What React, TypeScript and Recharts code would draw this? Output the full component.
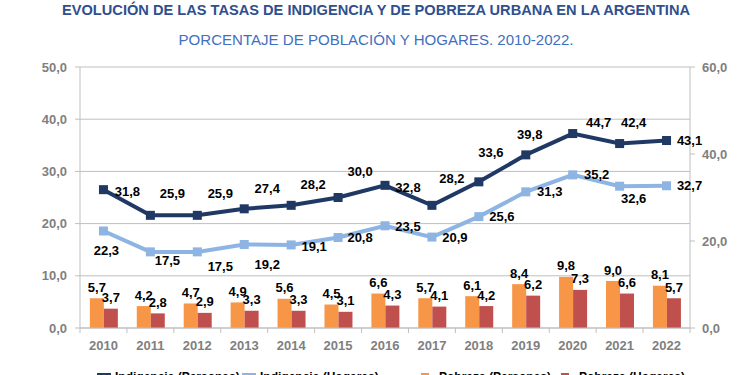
import React from "react"
import {
  Bar,
  CartesianGrid,
  ComposedChart,
  LabelList,
  Line,
  XAxis,
  YAxis,
} from "recharts"

const years = ["2010", "2011", "2012", "2013", "2014", "2015", "2016", "2017", "2018", "2019", "2020", "2021", "2022"]
const indigenciaPersonas = [5.7, 4.2, 4.7, 4.9, 5.6, 4.5, 6.6, 5.7, 6.1, 8.4, 9.8, 9.0, 8.1]
const indigenciaHogares = [3.7, 2.8, 2.9, 3.3, 3.3, 3.1, 4.3, 4.1, 4.2, 6.2, 7.3, 6.6, 5.7]
const pobrezaPersonas = [31.8, 25.9, 25.9, 27.4, 28.2, 30.0, 32.8, 28.2, 33.6, 39.8, 44.7, 42.4, 43.1]
const pobrezaHogares = [22.3, 17.5, 17.5, 19.2, 19.1, 20.8, 23.5, 20.9, 25.6, 31.3, 35.2, 32.6, 32.7]
const leftTicks = [0, 10, 20, 30, 40, 50]
const rightTicks = [0, 20, 40, 60]

const data = years.map((year, i) => ({
  year,
  indigenciaPersonas: indigenciaPersonas[i],
  indigenciaHogares: indigenciaHogares[i],
  pobrezaPersonas: pobrezaPersonas[i],
  pobrezaHogares: pobrezaHogares[i],
}))

// label offsets (dx, dy) from each point, as placed in the original
const darkLabelOffsets = [
  [24, 2], [22, -22], [23, -22], [23, -20], [22, -21], [22, -26], [23, 2],
  [20, -27], [12, -29], [4, -20], [26, -11], [14, -21], [23, 0],
]
const lightLabelOffsets = [
  [3, 20], [17, 9], [23, 15], [23, 20], [23, 2], [22, 0], [23, 1],
  [23, 0], [23, 0], [24, 0], [24, 0], [14, 12], [23, 0],
]

const NAVY = "#1f3864"
const LIGHT = "#8eb4e3"
const ORANGE = "#f79646"
const RED = "#c0504d"
const GRID = "#bfbfbf"
const TICK = "#7f7f7f"
const FONT = "'Liberation Sans', Arial, sans-serif"
const BAND = 610 / years.length

const fmt = (v: number) => v.toFixed(1).replace(".", ",")

function SquareDot({ cx, cy, fill }: any) {
  if (cx == null || cy == null) return null
  return <rect x={cx - 4.5} y={cy - 4.5} width={9} height={9} fill={fill} />
}

function pointLabel(offsets: number[][]) {
  return ({ x, y, value, index }: any) => {
    const [dx, dy] = offsets[index] || [0, 0]
    return (
      <text
        x={x + dx}
        y={y + dy}
        textAnchor="middle"
        dominantBaseline="central"
        fontFamily={FONT}
        fontSize={13}
        fontWeight="bold"
        fill="#000"
      >
        {fmt(value)}
      </text>
    )
  }
}

function barLabel({ x, y, width, value }: any) {
  return (
    <text
      x={x + width / 2}
      y={y - 11}
      textAnchor="middle"
      dominantBaseline="central"
      fontFamily={FONT}
      fontSize={13}
      fontWeight="bold"
      fill="#000"
    >
      {fmt(value)}
    </text>
  )
}

function YearTick({ x, y, payload, index }: any) {
  const top = y - 8
  return (
    <g>
      <line x1={x - BAND / 2} x2={x - BAND / 2} y1={top} y2={top + 5} stroke={GRID} />
      {index === years.length - 1 && (
        <line x1={x + BAND / 2} x2={x + BAND / 2} y1={top} y2={top + 5} stroke={GRID} />
      )}
      <text
        x={x}
        y={y}
        dy={9}
        textAnchor="middle"
        dominantBaseline="central"
        fontFamily={FONT}
        fontSize={13}
        fontWeight="bold"
        fill={TICK}
      >
        {payload.value}
      </text>
    </g>
  )
}

const legendItems = [
  { label: "Indigencia (Personas)", color: NAVY, left: 97, line: true },
  { label: "Indigencia (Hogares)", color: LIGHT, left: 242, line: true },
  { label: "Pobreza (Personas)", color: ORANGE, left: 421, line: false },
  { label: "Pobreza (Hogares)", color: RED, left: 561, line: false },
]

export default function App() {
  return (
    <div style={{ position: "absolute", left: 0, top: 0, width: 750, height: 375, overflow: "hidden", background: "#fff" }}>
      <svg width={750} height={50} style={{ position: "absolute", left: 0, top: 0 }}>
        <text
          x={376}
          y={15}
          textAnchor="middle"
          fontFamily="'Liberation Sans Narrow', 'Liberation Sans', Arial, sans-serif"
          fontSize={15}
          fontWeight="bold"
          fill="#2f4f8f"
          textLength={628}
          lengthAdjust="spacingAndGlyphs"
        >
          EVOLUCIÓN DE LAS TASAS DE INDIGENCIA Y DE POBREZA URBANA EN LA ARGENTINA
        </text>
        <text
          x={376}
          y={45}
          textAnchor="middle"
          fontFamily="'Liberation Sans Narrow', 'Liberation Sans', Arial, sans-serif"
          fontSize={15}
          fill="#3f6fbf"
          textLength={395}
          lengthAdjust="spacingAndGlyphs"
        >
          PORCENTAJE DE POBLACIÓN Y HOGARES. 2010-2022.
        </text>
      </svg>
      <div style={{ position: "absolute", left: 0, top: 0 }}>
        <ComposedChart
          width={750}
          height={375}
          data={data}
          margin={{ top: 67, right: 0, bottom: 17, left: 0 }}
          barCategoryGap="21%"
          barGap={0}
        >
          <CartesianGrid yAxisId="left" vertical={false} stroke={GRID} />
          <XAxis
            dataKey="year"
            height={30}
            stroke={GRID}
            tickLine={false}
            tick={<YearTick />}
            interval={0}
          />
          <YAxis
            yAxisId="left"
            orientation="left"
            width={80}
            domain={[0, 50]}
            ticks={leftTicks}
            tickFormatter={fmt}
            stroke={GRID}
            tickSize={5}
            tickMargin={8}
            tick={{ fill: TICK, fontFamily: FONT, fontSize: 13, fontWeight: "bold" }}
          />
          <YAxis
            yAxisId="right"
            orientation="right"
            width={60}
            domain={[0, 60]}
            ticks={rightTicks}
            tickFormatter={fmt}
            stroke={GRID}
            tickSize={5}
            tickMargin={7}
            tick={{ fill: TICK, fontFamily: FONT, fontSize: 13, fontWeight: "bold", textAnchor: "start" }}
          />
          <Bar yAxisId="left" dataKey="indigenciaPersonas" fill={ORANGE} isAnimationActive={false}>
            <LabelList dataKey="indigenciaPersonas" content={barLabel} />
          </Bar>
          <Bar yAxisId="left" dataKey="indigenciaHogares" fill={RED} isAnimationActive={false}>
            <LabelList dataKey="indigenciaHogares" content={barLabel} />
          </Bar>
          <Line
            yAxisId="right"
            dataKey="pobrezaHogares"
            stroke={LIGHT}
            strokeWidth={4}
            dot={<SquareDot fill={LIGHT} />}
            isAnimationActive={false}
          >
            <LabelList dataKey="pobrezaHogares" content={pointLabel(lightLabelOffsets)} />
          </Line>
          <Line
            yAxisId="right"
            dataKey="pobrezaPersonas"
            stroke={NAVY}
            strokeWidth={4}
            dot={<SquareDot fill={NAVY} />}
            isAnimationActive={false}
          >
            <LabelList dataKey="pobrezaPersonas" content={pointLabel(darkLabelOffsets)} />
          </Line>
        </ComposedChart>
      </div>
      {legendItems.map((item) => (
        <div
          key={item.label}
          style={{
            position: "absolute",
            left: item.left,
            top: 370,
            display: "flex",
            alignItems: "flex-start",
            gap: 4,
            fontFamily: FONT,
            fontSize: 12,
            lineHeight: "14px",
            fontWeight: "bold",
            color: "#000",
            whiteSpace: "nowrap",
          }}
        >
          <span
            style={{
              display: "inline-block",
              width: item.line ? 14 : 8,
              height: item.line ? 3 : 8,
              marginTop: item.line ? 3 : 3,
              background: item.color,
              marginRight: item.line ? 0 : 6,
            }}
          />
          {item.label}
        </div>
      ))}
    </div>
  )
}
